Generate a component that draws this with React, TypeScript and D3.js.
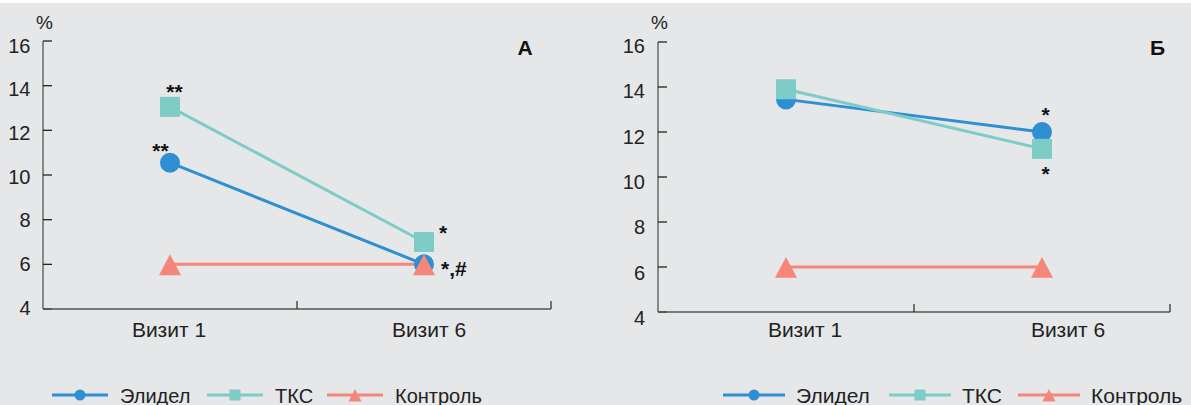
import React from "react";
import * as d3 from "d3";

const categories = ["Визит 1", "Визит 6"];
const yTicks = [4, 6, 8, 10, 12, 14, 16];
const seriesNames = ["Элидел", "ТКС", "Контроль"];
const panelTitles = ["А", "Б"];

// Panel A values
const elidelA = [10.55, 6.0];
const tksA = [13.05, 7.0];
const controlA = [6.0, 6.0];
// Panel B values
const elidelB = [13.45, 12.0];
const tksB = [13.9, 11.25];
const controlB = [6.0, 6.0];

// annotations: [series index, category index, label]
const annotationsA: [number, number, string][] = [
  [1, 0, "**"],
  [0, 0, "**"],
  [1, 1, "*"],
  [2, 1, "*,#"],
];
const annotationsB: [number, number, string][] = [
  [0, 1, "*"],
  [1, 1, "*"],
];

const colors = ["#2f8fd3", "#7dccc6", "#f5877a"];
const FONT = "'Liberation Sans', Arial, Helvetica, sans-serif";

type Layout = {
  x0: number;
  x1: number;
  yTop: number;
  yBot: number;
  labTop: number;
  labBot: number;
  labRight: number;
  xLabOff: number[];
  titleX: number;
  legendX: number[];
  legLen: number;
  legGap: number;
  legFont: number;
  annOffsets: [number, number, string][]; // dx, dy, anchor
};

const layouts: Layout[] = [
  {
    x0: 43,
    x1: 551,
    yTop: 41,
    yBot: 309,
    labTop: 45.5,
    labBot: 307.5,
    labRight: 30.5,
    xLabOff: [-1, 5],
    titleX: 525,
    legendX: [52, 207, 327],
    legLen: 56,
    legGap: 12,
    legFont: 20,
    annOffsets: [
      [4.5, -8, "middle"],
      [-9.5, -5, "middle"],
      [19, -2.5, "middle"],
      [17, 11.5, "start"],
    ],
  },
  {
    x0: 658,
    x1: 1170,
    yTop: 42,
    yBot: 312,
    labTop: 45.5,
    labBot: 318,
    labRight: 645,
    xLabOff: [19, 26],
    titleX: 1157.5,
    legendX: [723, 889, 1018],
    legLen: 62,
    legGap: 11,
    legFont: 21,
    annOffsets: [
      [3.5, -10.5, "middle"],
      [3.5, 32.5, "middle"],
    ],
  },
];

function Marker({ kind, x, y, s, color }: { kind: number; x: number; y: number; s: number; color: string }) {
  if (kind === 0) return <circle cx={x} cy={y} r={s} fill={color} />;
  if (kind === 1) return <rect x={x - s} y={y - s} width={2 * s} height={2 * s} fill={color} />;
  return (
    <path
      d={`M${x},${y - s}L${x + s * 1.1},${y + s * 1.08}L${x - s * 1.1},${y + s * 1.08}Z`}
      fill={color}
    />
  );
}

function Panel({ idx }: { idx: number }) {
  const L = layouts[idx];
  const data = idx === 0 ? [elidelA, tksA, controlA] : [elidelB, tksB, controlB];
  const anns = idx === 0 ? annotationsA : annotationsB;
  const x = d3.scaleBand<string>().domain(categories).range([L.x0, L.x1]).padding(0);
  const y = d3.scaleLinear().domain([4, 16]).range([L.yBot, L.yTop]);
  const yLab = d3.scaleLinear().domain([4, 16]).range([L.labBot, L.labTop]);
  const cx = (c: string) => (x(c) as number) + x.bandwidth() / 2;
  const line = d3
    .line<number>()
    .x((_, i) => cx(categories[i]))
    .y((v) => y(v));
  const boundaries = categories.map((c) => (x(c) as number) + x.bandwidth());
  const legendY = 395;
  return (
    <g>
      {/* y axis */}
      <line x1={L.x0} x2={L.x0} y1={L.yTop} y2={L.yBot} stroke="#555" strokeWidth={1.3} />
      {yTicks.map((t) => (
        <g key={t}>
          <line x1={L.x0} x2={L.x0 + 9} y1={y(t)} y2={y(t)} stroke="#222" strokeWidth={1.3} />
          <text
            x={L.labRight}
            y={yLab(t) + 7.2}
            textAnchor="end"
            fontSize={20}
            fill="#222"
            fontFamily={FONT}
          >
            {t}
          </text>
        </g>
      ))}
      <text x={L.x0 + 1.5} y={29} textAnchor="middle" fontSize={19} fill="#222" fontFamily={FONT}>
        %
      </text>
      {/* x axis */}
      <line x1={L.x0} x2={L.x1} y1={L.yBot} y2={L.yBot} stroke="#555" strokeWidth={1.3} />
      {boundaries.map((b, i) => (
        <line key={i} x1={b} x2={b} y1={L.yBot} y2={L.yBot - 8} stroke="#333" strokeWidth={1.3} />
      ))}
      {categories.map((c, i) => (
        <text
          key={c}
          x={cx(c) + L.xLabOff[i]}
          y={337}
          textAnchor="middle"
          fontSize={21}
          fill="#222"
          fontFamily={FONT}
        >
          {c}
        </text>
      ))}
      <text x={L.titleX} y={55} textAnchor="middle" fontSize={21} fontWeight="bold" fill="#111" fontFamily={FONT}>
        {panelTitles[idx]}
      </text>
      {/* lines */}
      {data.map((s, i) => (
        <path key={i} d={line(s) || ""} fill="none" stroke={colors[i]} strokeWidth={3} />
      ))}
      {/* markers */}
      {data.map((s, i) =>
        s.map((v, j) => <Marker key={`${i}-${j}`} kind={i} x={cx(categories[j])} y={y(v)} s={10} color={colors[i]} />)
      )}
      {/* annotations */}
      {anns.map(([si, ci, lab], k) => {
        const [dx, dy, anchor] = L.annOffsets[k];
        return (
          <text
            key={k}
            x={cx(categories[ci]) + dx}
            y={y(data[si][ci]) + dy}
            textAnchor={anchor as any}
            fontSize={21}
            fontWeight="bold"
            fill="#111"
            fontFamily={FONT}
          >
            {lab}
          </text>
        );
      })}
      {/* legend */}
      {seriesNames.map((n, i) => {
        const lx = L.legendX[i];
        return (
          <g key={n}>
            <line x1={lx} x2={lx + L.legLen} y1={legendY} y2={legendY} stroke={colors[i]} strokeWidth={3} />
            <Marker kind={i} x={lx + L.legLen / 2} y={legendY} s={i === 2 ? 6 : 5.5} color={colors[i]} />
            <text x={lx + L.legLen + L.legGap} y={legendY + 8} fontSize={L.legFont} fill="#222" fontFamily={FONT}>
              {n}
            </text>
          </g>
        );
      })}
    </g>
  );
}

export default function App() {
  return (
    <svg
      width={1191}
      height={405}
      style={{ position: "absolute", left: 0, top: 0, display: "block" }}
    >
      <rect x={0} y={0} width={1191} height={405} fill="#ffffff" />
      <rect x={0} y={3} width={1191} height={402} fill="#e6e7e9" />
      <Panel idx={0} />
      <Panel idx={1} />
    </svg>
  );
}
